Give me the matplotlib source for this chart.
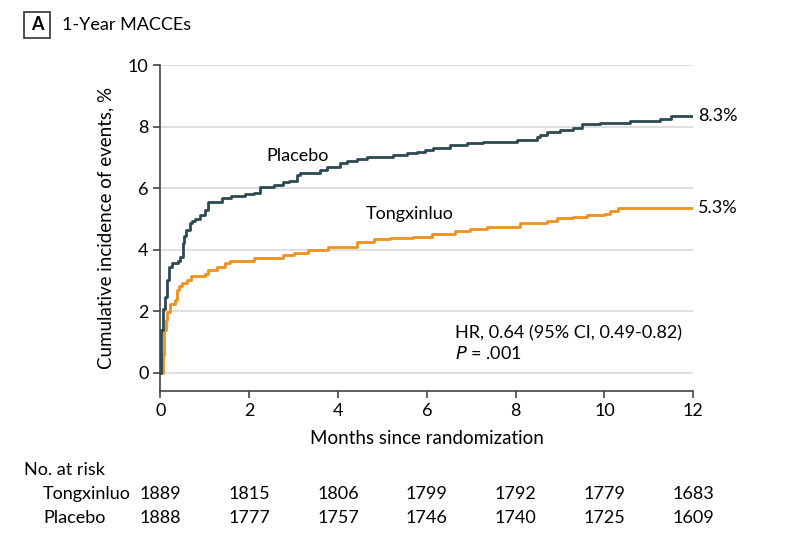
import matplotlib.pyplot as plt
from matplotlib.patches import Rectangle

# Kaplan-Meier style cumulative incidence
placebo_months = [0, 0.02, 0.05, 0.07, 0.10, 0.14, 0.20, 0.26, 0.40, 0.44, 0.50, 0.54, 0.58, 0.67,
                  0.72, 0.78, 0.89, 1.00, 1.08, 1.38, 1.60, 1.90, 2.10, 2.25, 2.55, 2.77, 2.90,
                  3.07, 3.15, 3.60, 3.75, 4.05, 4.20, 4.42, 4.65, 5.25, 5.55, 5.77, 5.95, 6.15,
                  6.52, 6.90, 7.27, 8.03, 8.48, 8.55, 8.70, 9.00, 9.30, 9.49, 9.90, 10.58,
                  11.25, 11.50, 12.0]
placebo_pct = [0, 1.38, 1.70, 2.08, 2.46, 3.00, 3.44, 3.56, 3.62, 3.76, 4.20, 4.45, 4.63, 4.85,
               4.92, 5.00, 5.12, 5.28, 5.55, 5.69, 5.74, 5.80, 5.85, 6.02, 6.10, 6.18, 6.23,
               6.42, 6.50, 6.60, 6.69, 6.80, 6.89, 6.96, 7.02, 7.07, 7.13, 7.18, 7.23, 7.29,
               7.40, 7.45, 7.50, 7.56, 7.65, 7.72, 7.81, 7.88, 7.94, 8.08, 8.13, 8.18,
               8.23, 8.35, 8.35]

tongx_months = [0, 0.05, 0.08, 0.13, 0.16, 0.22, 0.33, 0.38, 0.43, 0.48, 0.59, 0.68, 1.00,
                1.08, 1.27, 1.46, 1.58, 2.11, 2.77, 3.00, 3.33, 3.78, 4.12, 4.42, 4.80, 5.17,
                5.70, 6.11, 6.64, 6.97, 7.35, 8.10, 8.70, 8.93, 9.30, 9.60, 9.98, 10.13,
                10.30, 12.0]
tongx_pct = [0, 0.56, 1.38, 1.70, 1.97, 2.24, 2.35, 2.68, 2.80, 2.90, 3.00, 3.13, 3.22,
             3.35, 3.44, 3.55, 3.63, 3.74, 3.82, 3.90, 4.00, 4.07, 4.09, 4.25, 4.33, 4.38,
             4.41, 4.52, 4.61, 4.68, 4.74, 4.85, 4.93, 5.01, 5.06, 5.12, 5.17, 5.25,
             5.34, 5.34]

risk_months = [0, 2, 4, 6, 8, 10, 12]
risk_tongx = [1889, 1815, 1806, 1799, 1792, 1779, 1683]
risk_placebo = [1888, 1777, 1757, 1746, 1740, 1725, 1609]

dark = '#2c4a54'
orange = '#f0911c'

plt.rcParams['font.family'] = ['Lato', 'DejaVu Sans']

fig = plt.figure(figsize=(8, 5.59), dpi=100)
ax = fig.add_axes([0.2004, 0.3005, 0.6662, 0.5832])

for y in range(0, 11, 2):
    ax.axhline(y, color='#dcdcdc', lw=1.3, zorder=0)

ax.step(placebo_months, placebo_pct, where='post', color=dark, lw=2, zorder=3)
ax.step(tongx_months, tongx_pct, where='post', color=orange, lw=2, zorder=2)

ax.set_xlim(0, 12)
ax.set_ylim(-0.6, 10)
ax.set_xticks(range(0, 13, 2))
ax.set_yticks(range(0, 11, 2))
for s in ['top', 'right']:
    ax.spines[s].set_visible(False)
for s in ['left', 'bottom']:
    ax.spines[s].set_color('#444444')
    ax.spines[s].set_linewidth(1.2)
ax.tick_params(colors='#444444', labelcolor='black', labelsize=13, length=5, width=1.2)

ax.set_xlabel('Months since randomization', fontsize=13.5, labelpad=8)
ax.set_ylabel('Cumulative incidence of events, %', fontsize=13.5, labelpad=10)

ax.text(3.08, 7.05, 'Placebo', fontsize=13, ha='center', va='center')
ax.text(5.62, 5.15, 'Tongxinluo', fontsize=13, ha='center', va='center')
ax.text(12.1, placebo_pct[-1], '8.3%', fontsize=13, ha='left', va='center', clip_on=False)
ax.text(12.1, tongx_pct[-1], '5.3%', fontsize=13, ha='left', va='center', clip_on=False)
ax.text(6.64, 1.28, 'HR, 0.64 (95% CI, 0.49-0.82)', fontsize=13, ha='left', va='center')
ax.text(6.64, 0.63, r'$\it{P}$ = .001', fontsize=13, ha='left', va='center')

# panel title
fig.patches.append(Rectangle((24 / 800, 1 - 38 / 559), 26 / 800, 26 / 559,
                             transform=fig.transFigure, fill=False, ec='#333333', lw=1.2))
fig.text(37 / 800, 1 - 25 / 559, 'A', fontsize=13, fontweight='bold', ha='center', va='center')
fig.text(62 / 800, 1 - 25 / 559, '1-Year MACCEs', fontsize=13, ha='left', va='center')

# number at risk table
fig.text(24 / 800, 1 - 470 / 559, 'No. at risk', fontsize=13, ha='left', va='center')
fig.text(43 / 800, 1 - 494 / 559, 'Tongxinluo', fontsize=13, ha='left', va='center')
fig.text(43 / 800, 1 - 518 / 559, 'Placebo', fontsize=13, ha='left', va='center')
for m, a, b in zip(risk_months, risk_tongx, risk_placebo):
    x = ax.transData.transform((m, 0))[0]
    fig.text(x / 800, 1 - 494 / 559, str(a), fontsize=13, ha='center', va='center')
    fig.text(x / 800, 1 - 518 / 559, str(b), fontsize=13, ha='center', va='center')

fig.savefig('out.png', dpi=100)
